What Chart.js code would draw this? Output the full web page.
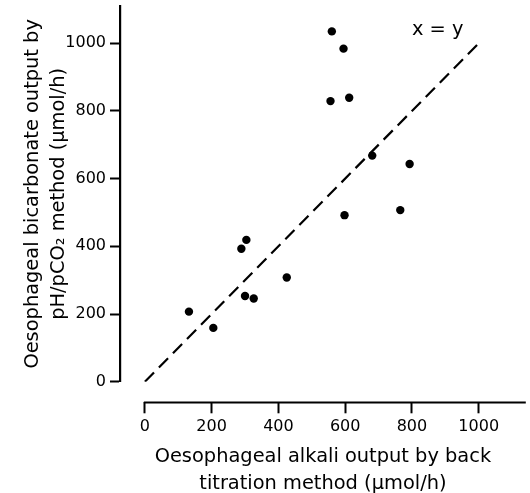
<!DOCTYPE html>
<html>
<head>
<meta charset="utf-8">
<script src="https://cdn.jsdelivr.net/npm/chart.js@4.4.1/dist/chart.umd.min.js"></script>
<style>
  html, body { margin: 0; padding: 0; background: #ffffff; }
  #wrap { position: relative; width: 530px; height: 493px; }
</style>
</head>
<body>
<div id="wrap"><canvas id="c"></canvas></div>
<script>
// ---- data ----
const backTitration = [560, 595, 556, 612, 681, 793, 598, 765, 304, 289, 425, 300, 326, 132, 205];
const phPco2       = [1035, 984, 829, 839, 668, 643, 492, 507, 419, 393, 308, 253, 246, 207, 159];
const identityX = [0, 1000];
const identityY = [0, 1000];
const xTickValues = [0, 200, 400, 600, 800, 1000];
const yTickValues = [0, 200, 400, 600, 800, 1000];
const xTitle = ['Oesophageal alkali output by back', 'titration method (\u03bcmol/h)'];
const yTitle = ['Oesophageal bicarbonate output by', 'pH/pCO\u2082 method (\u03bcmol/h)'];
const identityLabel = 'x = y';

// ---- scale ranges ----
const xMin = -74.5, xMax = 1141;
const yMin = 0, yMax = 1110;
const xAxisAtY = -61.5;           // the detached x axis line sits below y = 0
const labelAt = { x: 877, y: 1023 };

const points = backTitration.map((v, i) => ({ x: v, y: phPco2[i] }));
const identity = identityX.map((v, i) => ({ x: v, y: identityY[i] }));

const detachedAxis = {
  id: 'detachedAxis',
  afterDraw(chart) {
    const { ctx, chartArea, scales } = chart;
    const y = scales.y.getPixelForValue(xAxisAtY);
    const x0 = scales.x.getPixelForValue(0);
    ctx.save();
    ctx.strokeStyle = '#000';
    ctx.lineWidth = 2.2;
    ctx.beginPath();
    ctx.moveTo(x0 - 1, y);
    ctx.lineTo(chartArea.right, y);
    ctx.stroke();
    // x = y label
    ctx.fillStyle = '#000';
    ctx.font = '19.4px "DejaVu Sans"';
    ctx.textAlign = 'center';
    ctx.textBaseline = 'alphabetic';
    ctx.fillText(identityLabel, scales.x.getPixelForValue(labelAt.x), scales.y.getPixelForValue(labelAt.y));
    ctx.restore();
  }
};

const tickFont = { family: '"DejaVu Sans"', size: 16 };
const plainNumber = (v) => String(v);

new Chart(document.getElementById('c'), {
  type: 'scatter',
  data: {
    datasets: [
      {
        type: 'line',
        data: identity,
        borderColor: '#000',
        borderWidth: 2.2,
        borderDash: [13, 7],
        pointRadius: 0,
        fill: false,
        tension: 0
      },
      {
        type: 'scatter',
        data: points,
        backgroundColor: '#000',
        borderColor: '#000',
        borderWidth: 0,
        pointRadius: 4.2,
        pointHoverRadius: 4.2
      }
    ]
  },
  options: {
    responsive: true,
    maintainAspectRatio: false,
    animation: false,
    devicePixelRatio: 1,
    layout: { padding: { top: 6, right: 2, left: 0, bottom: 0 } },
    plugins: { legend: { display: false }, tooltip: { enabled: false } },
    scales: {
      x: {
        type: 'linear',
        position: 'bottom',
        min: xMin,
        max: xMax,
        afterBuildTicks: (s) => { s.ticks = xTickValues.map(v => ({ value: v })); },
        afterFit: (s) => { s.height = 111.3; s.paddingLeft = 0; s.paddingRight = 0; },
        border: { display: false },
        grid: {
          drawOnChartArea: false,
          drawTicks: true,
          tickLength: 31.6,
          tickWidth: 2,
          tickColor: '#000',
          tickBorderDash: [11.6, 20],
          tickBorderDashOffset: 11.6
        },
        ticks: {
          autoSkip: false,
          maxRotation: 0,
          padding: 4,
          color: '#000',
          font: tickFont,
          callback: plainNumber
        },
        title: {
          display: true,
          text: xTitle,
          color: '#000',
          font: { family: '"DejaVu Sans"', size: 19.4, lineHeight: '27.3px' },
          padding: { top: 0, bottom: -4.7 }
        }
      },
      y: {
        type: 'linear',
        position: 'left',
        min: yMin,
        max: yMax,
        afterBuildTicks: (s) => { s.ticks = yTickValues.map(v => ({ value: v })); },
        afterFit: (s) => { s.width = 120; s.paddingTop = 0; s.paddingBottom = 0; },
        border: { display: true, color: '#000', width: 2.2 },
        grid: {
          drawOnChartArea: false,
          drawTicks: true,
          tickLength: 10,
          tickWidth: 2,
          tickColor: '#000'
        },
        ticks: {
          autoSkip: false,
          padding: 4,
          color: '#000',
          font: tickFont,
          callback: plainNumber
        },
        title: {
          display: true,
          text: yTitle,
          color: '#000',
          font: { family: '"DejaVu Sans"', size: 19.4, lineHeight: '25.5px' },
          padding: { top: 20.25, bottom: 0 }
        }
      }
    }
  },
  plugins: [detachedAxis]
});
</script>
</body>
</html>
